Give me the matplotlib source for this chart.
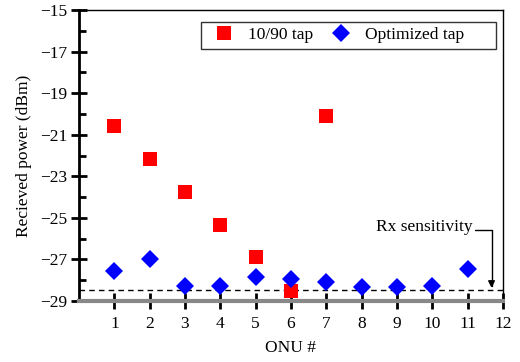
import numpy as np
import matplotlib.pyplot as plt
from matplotlib.ticker import MultipleLocator

onu = [1, 2, 3, 4, 5, 6, 7, 8, 9, 10, 11]
tap_1090 = [-20.58, -22.16, -23.75, -25.34, -26.9, -28.5, -20.1]
tap_opt = [-27.55, -27.0, -28.27, -28.27, -27.84, -27.95, -28.08, -28.32, -28.32, -28.27, -27.45]
rx_sens = -28.45

plt.rcParams['font.family'] = ['Liberation Serif', 'DejaVu Serif']
plt.rcParams['font.size'] = 12.5

fig = plt.figure(figsize=(5.2, 3.62), dpi=100)
ax = fig.add_axes([0.152, 0.1685, 0.815, 0.8035])

ax.plot(onu[:len(tap_1090)], tap_1090, 's', color='#ff0000', ms=9.5, mew=0, label='10/90 tap', zorder=4)
ax.plot(onu, tap_opt, 'D', color='#0000ff', ms=9, mew=0, label='Optimized tap      ', zorder=5)
ax.axhline(rx_sens, color='k', ls=(0, (4, 3)), lw=1, zorder=3)

ax.annotate('Rx sensitivity', xy=(11.68, rx_sens + 0.08), xytext=(9.77, -25.45),
            ha='center', va='center',
            arrowprops=dict(arrowstyle='-|>', color='k', lw=1, mutation_scale=10,
                            shrinkA=0, shrinkB=0,
                            connectionstyle='angle,angleA=0,angleB=90,rad=0',
                            relpos=(1.0, 0.35)))

ax.set_xlim(0, 12)
ax.set_ylim(-29, -15)
ax.set_xticks(range(1, 13))
ax.yaxis.set_minor_locator(MultipleLocator(1))
ax.set_yticks(np.arange(-29, -14, 2))
ax.tick_params(axis='both', which='major', direction='inout', length=11, width=2)
ax.tick_params(axis='y', which='minor', direction='in', length=5, width=2)
ax.tick_params(axis='x', pad=5)
ax.tick_params(axis='y', pad=3)

ax.spines['bottom'].set_color('#888888')
ax.spines['bottom'].set_linewidth(3)
ax.spines['left'].set_linewidth(2)
ax.spines['top'].set_linewidth(1)
ax.spines['right'].set_linewidth(1)

ax.set_xlabel('ONU #', labelpad=6)
ax.set_ylabel('Recieved power (dBm)', labelpad=6)

leg = ax.legend(loc='upper right', ncol=2, frameon=True, fancybox=False,
                edgecolor='k', borderpad=0.3, handletextpad=0.4, columnspacing=0.6,
                borderaxespad=0, bbox_to_anchor=(0.9835, 0.959))
leg.get_frame().set_linewidth(1)

fig.savefig('out.png', dpi=100)
